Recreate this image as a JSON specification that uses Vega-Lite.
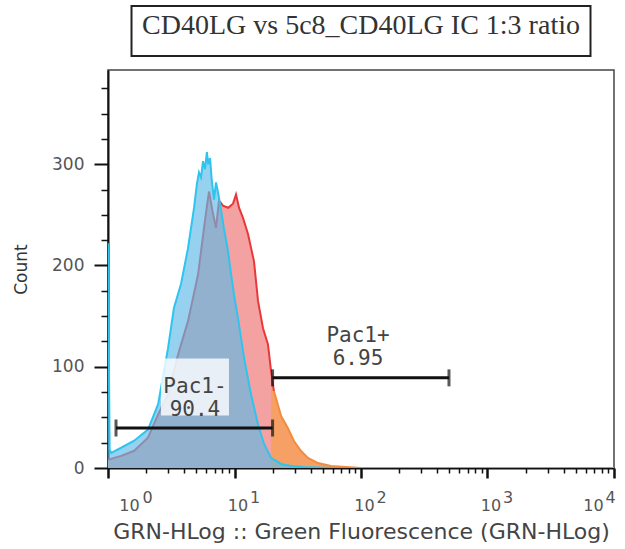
{
  "$schema": "https://vega.github.io/schema/vega-lite/v6.json",
  "padding": {"left": 11, "top": 5, "right": 5, "bottom": 5},
  "config": {
    "font": "DejaVu Sans",
    "view": {"stroke": "#444", "strokeWidth": 1.5},
    "axis": {"grid": false}
  },
  "bounds": "flush",
  "center": true,
  "spacing": 14,
  "datasets": {
    "hist": [
      {"s": "red", "x": 1.0, "n": 8},
      {"s": "red", "x": 1.06, "n": 9},
      {"s": "red", "x": 1.12, "n": 10},
      {"s": "red", "x": 1.27, "n": 12},
      {"s": "red", "x": 1.61, "n": 17},
      {"s": "red", "x": 2.07, "n": 30},
      {"s": "red", "x": 2.49, "n": 53},
      {"s": "red", "x": 2.98, "n": 73},
      {"s": "red", "x": 3.58, "n": 112},
      {"s": "red", "x": 4.29, "n": 145},
      {"s": "red", "x": 5.15, "n": 191},
      {"s": "red", "x": 5.74, "n": 237},
      {"s": "red", "x": 6.17, "n": 266},
      {"s": "red", "x": 6.29, "n": 273},
      {"s": "red", "x": 6.76, "n": 251},
      {"s": "red", "x": 7.14, "n": 237},
      {"s": "red", "x": 7.54, "n": 264},
      {"s": "red", "x": 8.11, "n": 259},
      {"s": "red", "x": 8.89, "n": 257},
      {"s": "red", "x": 9.73, "n": 261},
      {"s": "red", "x": 10.28, "n": 270},
      {"s": "red", "x": 10.86, "n": 257},
      {"s": "red", "x": 11.67, "n": 247},
      {"s": "red", "x": 12.79, "n": 231},
      {"s": "red", "x": 14.26, "n": 204},
      {"s": "red", "x": 15.34, "n": 165},
      {"s": "red", "x": 16.8, "n": 138},
      {"s": "red", "x": 18.4, "n": 122},
      {"s": "red", "x": 19.44, "n": 96},
      {"s": "red", "x": 20.5, "n": 76},
      {"s": "red", "x": 23.4, "n": 51},
      {"s": "red", "x": 26.4, "n": 39.5},
      {"s": "red", "x": 29.5, "n": 26.7},
      {"s": "red", "x": 33.6, "n": 16.8},
      {"s": "red", "x": 38.1, "n": 9.9},
      {"s": "red", "x": 45.7, "n": 4.9},
      {"s": "red", "x": 57.8, "n": 2},
      {"s": "red", "x": 76.1, "n": 1},
      {"s": "red", "x": 100, "n": 0},
      {"s": "red", "x": 10000, "n": 0},
      {"s": "blue", "x": 1.0, "n": 222},
      {"s": "blue", "x": 1.03, "n": 18},
      {"s": "blue", "x": 1.06, "n": 15},
      {"s": "blue", "x": 1.27, "n": 20},
      {"s": "blue", "x": 1.61, "n": 27},
      {"s": "blue", "x": 2.07, "n": 38},
      {"s": "blue", "x": 2.49, "n": 63},
      {"s": "blue", "x": 2.98, "n": 118},
      {"s": "blue", "x": 3.32, "n": 158},
      {"s": "blue", "x": 3.78, "n": 182},
      {"s": "blue", "x": 4.29, "n": 217},
      {"s": "blue", "x": 4.79, "n": 257},
      {"s": "blue", "x": 5.04, "n": 280},
      {"s": "blue", "x": 5.24, "n": 292},
      {"s": "blue", "x": 5.44, "n": 287},
      {"s": "blue", "x": 5.64, "n": 303},
      {"s": "blue", "x": 5.85, "n": 295},
      {"s": "blue", "x": 6.05, "n": 312},
      {"s": "blue", "x": 6.2, "n": 300},
      {"s": "blue", "x": 6.41, "n": 306},
      {"s": "blue", "x": 6.6, "n": 285},
      {"s": "blue", "x": 6.89, "n": 265},
      {"s": "blue", "x": 7.14, "n": 282},
      {"s": "blue", "x": 7.41, "n": 272},
      {"s": "blue", "x": 7.82, "n": 255},
      {"s": "blue", "x": 8.26, "n": 236},
      {"s": "blue", "x": 8.89, "n": 214},
      {"s": "blue", "x": 9.38, "n": 192},
      {"s": "blue", "x": 10.0, "n": 168},
      {"s": "blue", "x": 10.66, "n": 148},
      {"s": "blue", "x": 11.89, "n": 109},
      {"s": "blue", "x": 13.49, "n": 73},
      {"s": "blue", "x": 15.34, "n": 43},
      {"s": "blue", "x": 17.1, "n": 24},
      {"s": "blue", "x": 19.44, "n": 10},
      {"s": "blue", "x": 23.4, "n": 4},
      {"s": "blue", "x": 28, "n": 2},
      {"s": "blue", "x": 35, "n": 1},
      {"s": "blue", "x": 60, "n": 0},
      {"s": "blue", "x": 10000, "n": 0}
    ],
    "gates": [
      {"gate": "Pac1-", "lo": 1.157, "hi": 20, "y": 39.5, "label": "Pac1-\n90.4", "mid": 4.87, "labelY": 80},
      {"gate": "Pac1+", "lo": 20, "hi": 496, "y": 89, "label": "Pac1+\n6.95", "mid": 94.7, "labelY": 130}
    ]
  },
  "vconcat": [
    {
      "width": 459,
      "height": 50,
      "view": {"stroke": "#222", "strokeWidth": 2},
      "data": {"values": [{"title": "CD40LG vs 5c8_CD40LG IC 1:3 ratio"}]},
      "mark": {"type": "text", "font": "Liberation Serif", "fontSize": 28, "color": "#333", "baseline": "alphabetic", "dy": 3},
      "encoding": {"text": {"field": "title", "type": "nominal"}}
    },
    {
      "width": 506,
      "height": 398,
      "data": {"name": "hist"},
      "resolve": {"axis": {"x": "independent", "y": "independent"}},
      "layer": [
        {
          "transform": [{"filter": "datum.s == 'red'"}],
          "mark": {"type": "area", "color": "#f4a1a1", "clip": true},
          "encoding": {
            "x": {"field": "x", "type": "quantitative",
              "scale": {"type": "log", "domain": [1, 10000], "nice": false},
              "axis": {"orient": "bottom", "values": [1, 10, 100, 1000, 10000], "labelExpr": "'10'",
                "tickSize": 10, "tickWidth": 2.5, "tickColor": "#111", "domainColor": "#111", "domainWidth": 2,
                "labelFontSize": 16, "labelColor": "#555", "labelPadding": 19, "labelFlush": false, "labelOverlap": false, "labelBound": false,
                "labelOffset": {"condition": [{"test": "datum.value <= 1", "value": 21}, {"test": "datum.value >= 10000", "value": -21}], "value": 3},
                "title": "GRN-HLog :: Green Fluorescence (GRN-HLog)", "titleFontSize": 22, "titleFontWeight": "normal", "titleColor": "#444", "titlePadding": 8}},
            "y": {"field": "n", "type": "quantitative", "stack": null,
              "scale": {"domain": [0, 393], "nice": false},
              "axis": {"orient": "left", "values": [0, 100, 200, 300], "tickSize": 14, "tickWidth": 2, "tickColor": "#111",
                "domainColor": "#111", "domainWidth": 2, "labelFontSize": 17, "labelColor": "#555", "labelPadding": 10,
                "title": "Count", "titleFontSize": 17, "titleFontWeight": "normal", "titleColor": "#333", "titlePadding": 21}}
          }
        },
        {
          "transform": [{"filter": "datum.s == 'red' && datum.x >= 19"}],
          "mark": {"type": "area", "color": "#f7a065", "clip": true},
          "encoding": {
            "x": {"field": "x", "type": "quantitative",
              "scale": {"type": "log", "domain": [1, 10000], "nice": false},
              "axis": {"orient": "bottom", "values": [1, 10, 100, 1000, 10000], "labelExpr": "format(log(datum.value) / LN10, 'd')",
                "ticks": false, "tickSize": 0, "domain": false, "labelFontSize": 16, "labelColor": "#555", "labelPadding": 21,
                "labelFlush": false, "labelOverlap": false, "labelBound": false,
                "labelOffset": {"condition": [{"test": "datum.value <= 1", "value": 39}, {"test": "datum.value >= 10000", "value": -4}], "value": 20},
                "title": null}},
            "y": {"field": "n", "type": "quantitative", "stack": null,
              "scale": {"domain": [0, 393], "nice": false},
              "axis": {"orient": "left", "values": [25, 50, 75, 125, 150, 175, 225, 250, 275, 325, 350, 375],
                "tickSize": 7, "tickWidth": 1.5, "tickColor": "#111", "labels": false, "domain": false, "title": null}}
          }
        },
        {
          "transform": [{"filter": "datum.s == 'red' && datum.x <= 20.5"}],
          "mark": {"type": "line", "color": "#e8383a", "strokeWidth": 2, "clip": true},
          "encoding": {
            "x": {"field": "x", "type": "quantitative",
              "scale": {"type": "log", "domain": [1, 10000], "nice": false},
              "axis": {"orient": "bottom", "values": [2, 3, 4, 5, 6, 7, 8, 9, 20, 30, 40, 50, 60, 70, 80, 90, 200, 300, 400, 500, 600, 700, 800, 900, 2000, 3000, 4000, 5000, 6000, 7000, 8000, 9000],
                "tickSize": 5, "tickWidth": 1.5, "tickColor": "#111", "labels": false, "domain": false, "title": null}},
            "y": {"field": "n", "type": "quantitative", "scale": {"domain": [0, 393], "nice": false}, "axis": null}
          }
        },
        {
          "transform": [{"filter": "datum.s == 'red' && datum.x >= 20.5"}],
          "mark": {"type": "line", "color": "#f28c3e", "strokeWidth": 2, "clip": true},
          "encoding": {
            "x": {"field": "x", "type": "quantitative", "scale": {"type": "log", "domain": [1, 10000], "nice": false}, "axis": null},
            "y": {"field": "n", "type": "quantitative", "scale": {"domain": [0, 393], "nice": false}, "axis": null}
          }
        },
        {
          "transform": [{"filter": "datum.s == 'blue'"}],
          "mark": {"type": "area", "color": "#5ebae8", "opacity": 0.65, "clip": true},
          "encoding": {
            "x": {"field": "x", "type": "quantitative", "scale": {"type": "log", "domain": [1, 10000], "nice": false}, "axis": null},
            "y": {"field": "n", "type": "quantitative", "stack": null, "scale": {"domain": [0, 393], "nice": false}, "axis": null}
          }
        },
        {
          "transform": [{"filter": "datum.s == 'blue'"}],
          "mark": {"type": "line", "color": "#2ec4f0", "strokeWidth": 2, "clip": true},
          "encoding": {
            "x": {"field": "x", "type": "quantitative", "scale": {"type": "log", "domain": [1, 10000], "nice": false}, "axis": null},
            "y": {"field": "n", "type": "quantitative", "scale": {"domain": [0, 393], "nice": false}, "axis": null}
          }
        },
        {
          "data": {"name": "gates"},
          "transform": [{"filter": "datum.gate == 'Pac1-'"}],
          "mark": {"type": "point", "shape": "M-1,-0.84H1V0.84H-1Z", "size": 4624, "filled": true, "color": "white", "opacity": 0.8},
          "encoding": {
            "x": {"field": "mid", "type": "quantitative", "scale": {"type": "log", "domain": [1, 10000], "nice": false}, "axis": null},
            "y": {"field": "labelY", "type": "quantitative", "scale": {"domain": [0, 393], "nice": false}, "axis": null}
          }
        },
        {
          "data": {"name": "gates"},
          "mark": {"type": "rule", "color": "#111", "strokeWidth": 3},
          "encoding": {
            "x": {"field": "lo", "type": "quantitative", "scale": {"type": "log", "domain": [1, 10000], "nice": false}, "axis": null},
            "x2": {"field": "hi"},
            "y": {"field": "y", "type": "quantitative", "scale": {"domain": [0, 393], "nice": false}, "axis": null}
          }
        },
        {
          "data": {"name": "gates"},
          "mark": {"type": "tick", "orient": "vertical", "color": "#111", "size": 17, "thickness": 3},
          "encoding": {
            "x": {"field": "lo", "type": "quantitative", "scale": {"type": "log", "domain": [1, 10000], "nice": false}, "axis": null},
            "y": {"field": "y", "type": "quantitative", "scale": {"domain": [0, 393], "nice": false}, "axis": null}
          }
        },
        {
          "data": {"name": "gates"},
          "mark": {"type": "tick", "orient": "vertical", "color": "#111", "size": 17, "thickness": 3},
          "encoding": {
            "x": {"field": "hi", "type": "quantitative", "scale": {"type": "log", "domain": [1, 10000], "nice": false}, "axis": null},
            "y": {"field": "y", "type": "quantitative", "scale": {"domain": [0, 393], "nice": false}, "axis": null}
          }
        },
        {
          "data": {"name": "gates"},
          "mark": {"type": "text", "font": "DejaVu Sans Mono", "fontSize": 21, "lineBreak": "\n", "lineHeight": 23, "color": "#444", "baseline": "middle"},
          "encoding": {
            "x": {"field": "mid", "type": "quantitative", "scale": {"type": "log", "domain": [1, 10000], "nice": false}, "axis": null},
            "y": {"field": "labelY", "type": "quantitative", "scale": {"domain": [0, 393], "nice": false}, "axis": null},
            "text": {"field": "label", "type": "nominal"}
          }
        }
      ]
    }
  ]
}
